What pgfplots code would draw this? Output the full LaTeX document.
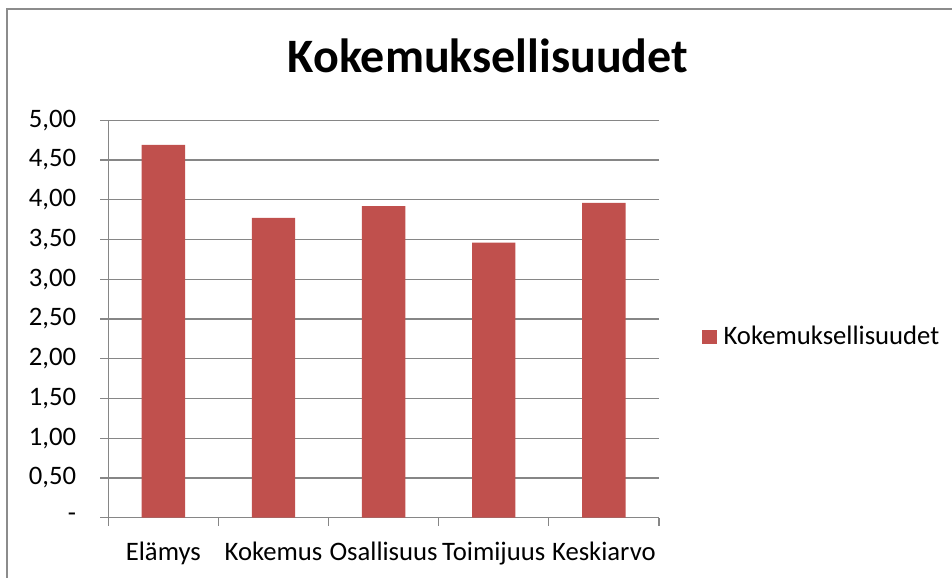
\documentclass[border=0pt]{standalone}
\usepackage{pgfplots}
\pgfplotsset{compat=1.18}
\usepackage{fontspec}
\setmainfont{Carlito}
\definecolor{barred}{HTML}{C0504D}
\definecolor{gridgray}{HTML}{868686}
\definecolor{framegray}{HTML}{8C8C8C}
\begin{document}
\begin{tikzpicture}
\useasboundingbox (0,0) rectangle (357pt,216.75pt);
\draw[framegray, line width=0.75pt] (2.8pt,-1pt) -- (2.8pt,213.4pt) -- (358pt,213.4pt);
\node[anchor=base, font=\fontsize{18}{22}\selectfont\bfseries, inner sep=0pt] at (183pt,189.4pt) {Kokemuksellisuudet};
\begin{axis}[
  at={(40.61pt,22.61pt)}, anchor=south west,
  scale only axis, width=206.5pt, height=149.06pt,
  xmin=-0.5, xmax=4.5, ymin=0, ymax=5,
  axis lines*=left,
  axis line style={gridgray, line width=0.5pt},
  every tick/.style={gridgray, line width=0.5pt},
  tick align=outside, major tick length=3pt,
  ytick={0,0.5,1,1.5,2,2.5,3,3.5,4,4.5,5},
  yticklabels={{-},{0,50},{1,00},{1,50},{2,00},{2,50},{3,00},{3,50},{4,00},{4,50},{5,00}},
  yticklabel style={anchor=east, inner sep=0pt, xshift=-8.85pt, font=\fontsize{10}{12}\selectfont},
  ymajorgrids, major grid style={gridgray, line width=0.5pt},
  xtick={-0.5,0.5,1.5,2.5,3.5,4.5},
  xticklabels={},
  extra x ticks={0,1,2,3,4},
  extra x tick labels={Elämys,Kokemus,Osallisuus,Toimijuus,Keskiarvo},
  extra x tick style={major tick length=0pt, grid=none, xticklabel style={anchor=base, inner sep=0pt, yshift=-15.9pt, font=\fontsize{10}{12}\selectfont}},
  legend style={at={(1.0786,0.455)}, anchor=west, draw=none, fill=none, inner sep=0pt, outer sep=0pt, column sep=2.6pt, nodes={inner sep=0pt, font=\fontsize{10}{12}\selectfont}},
  legend image code/.code={\fill[#1] (0pt,-2.7pt) rectangle (5.4pt,2.7pt);},
]
\addplot[ybar, bar width=16.24pt, fill=barred, draw=none] coordinates {
  (0,4.69) (1,3.77) (2,3.92) (3,3.46) (4,3.96)
};
\addlegendentry{Kokemuksellisuudet}
\end{axis}
\end{tikzpicture}
\end{document}
